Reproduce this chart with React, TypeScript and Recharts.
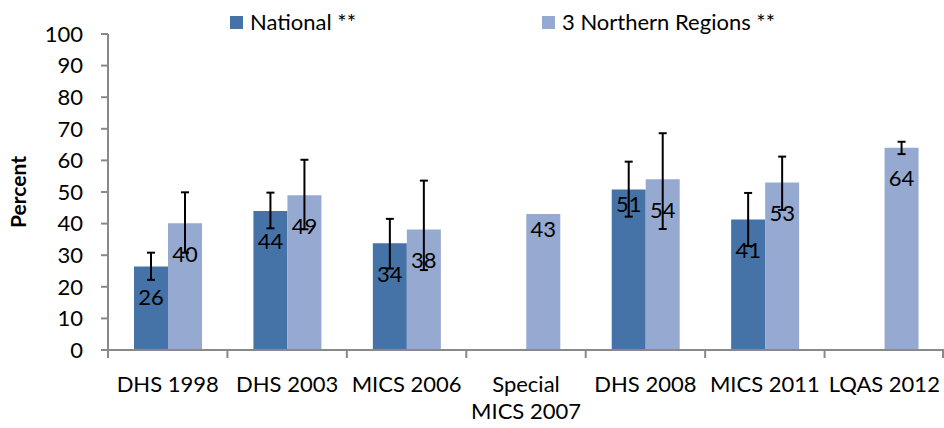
import { BarChart, Bar, XAxis, YAxis, ErrorBar } from "recharts";

const surveys = ["DHS 1998", "DHS 2003", "MICS 2006", "Special\nMICS 2007", "DHS 2008", "MICS 2011", "LQAS 2012"];
const national = [26.4, 44, 33.8, null, 50.8, 41.3, null];
const nationalLow = [22.2, 38.5, 25.8, null, 42.2, 32.9, null];
const nationalHigh = [30.8, 49.8, 41.5, null, 59.6, 49.7, null];
const northern = [40.1, 49, 38.1, 43, 54, 53, 64];
const northernLow = [30.8, 38.2, 25.3, null, 38.3, 44.3, 62];
const northernHigh = [49.9, 60.2, 53.6, null, 68.6, 61.2, 65.9];
const yTicks = [0, 10, 20, 30, 40, 50, 60, 70, 80, 90, 100];

const NATIONAL_COLOR = "#4572a7";
const NORTHERN_COLOR = "#95a9d1";
const AXIS_COLOR = "#898989";
const FONT = "Lato, 'Open Sans', sans-serif";

const W = 944;
const H = 428;
const Y_AXIS_W = 108;
const band = (W - Y_AXIS_W) / surveys.length;

const err = (v: number | null, lo: number | null, hi: number | null) =>
  v == null || lo == null || hi == null ? null : [v - lo, hi - v];

const data = surveys.map((s, i) => ({
  survey: s,
  national: national[i],
  northern: northern[i],
  nationalErr: err(national[i], nationalLow[i], nationalHigh[i]),
  northernErr: err(northern[i], northernLow[i], northernHigh[i]),
}));

function makeLabel(lows: (number | null)[]) {
  return (props: any) => {
    const { x, y, width, value, index } = props;
    if (value == null) return null;
    const dy = lows[index] == null ? 14 : 30;
    return (
      <text
        x={x + width / 2}
        y={y + dy}
        textAnchor="middle"
        dominantBaseline="central"
        fontSize={22}
        fontFamily={FONT}
        fill="#000"
      >
        {Math.round(value)}
      </text>
    );
  };
}

function XTick(props: any) {
  const { x, y, payload, index } = props;
  const lines = String(payload.value).split("\n");
  return (
    <g>
      <line x1={x - band / 2} y1={y - 8} x2={x - band / 2} y2={y} stroke={AXIS_COLOR} strokeWidth={2} />
      {index === surveys.length - 1 && (
        <line x1={x + band / 2 - 1} y1={y - 8} x2={x + band / 2 - 1} y2={y} stroke={AXIS_COLOR} strokeWidth={2} />
      )}
      {lines.map((l, i) => (
        <text
          key={i}
          x={x}
          y={y + 25 + i * 27}
          textAnchor="middle"
          dominantBaseline="central"
          fontSize={22}
          fontFamily={FONT}
          fill="#000"
        >
          {l}
        </text>
      ))}
    </g>
  );
}

function LegendBox() {
  const item = (left: number, color: string, text: string) => (
    <div style={{ position: "absolute", left, top: 9, display: "flex", alignItems: "center" }}>
      <div style={{ width: 13, height: 13, background: color, marginRight: 7 }} />
      <span style={{ fontSize: 22, lineHeight: "26px", fontFamily: FONT, color: "#000", whiteSpace: "nowrap" }}>
        {text}
      </span>
    </div>
  );
  return (
    <>
      {item(230, NATIONAL_COLOR, "National **")}
      {item(542, NORTHERN_COLOR, "3 Northern Regions **")}
    </>
  );
}

export default function App() {
  return (
    <div style={{ position: "relative", width: W, height: H, background: "#fff" }}>
      <style>{"body{margin:0}"}</style>
      <BarChart
        width={W}
        height={H}
        data={data}
        margin={{ top: 34, right: 0, left: 0, bottom: 0 }}
        barGap={0}
        barSize={34}
      >
        <YAxis
          width={Y_AXIS_W}
          domain={[0, 100]}
          ticks={yTicks}
          interval={0}
          tickSize={7}
          tickMargin={18}
          axisLine={{ stroke: AXIS_COLOR, strokeWidth: 2 }}
          tickLine={{ stroke: AXIS_COLOR, strokeWidth: 2 }}
          tick={{ fontSize: 22, fontFamily: FONT, fill: "#000" }}
          label={{
            value: "Percent",
            angle: -90,
            position: "insideLeft",
            offset: 19,
            style: { fontSize: 21, fontWeight: "bold", fontFamily: FONT, fill: "#000", textAnchor: "middle" },
          }}
        />
        <XAxis
          dataKey="survey"
          height={78}
          interval={0}
          tickLine={false}
          axisLine={{ stroke: AXIS_COLOR, strokeWidth: 2 }}
          tick={<XTick />}
        />
        <Bar
          dataKey="national"
          fill={NATIONAL_COLOR}
          isAnimationActive={false}
          label={makeLabel(nationalLow)}
        >
          <ErrorBar dataKey="nationalErr" width={4} stroke="#000" strokeWidth={2} />
        </Bar>
        <Bar
          dataKey="northern"
          fill={NORTHERN_COLOR}
          isAnimationActive={false}
          label={makeLabel(northernLow)}
        >
          <ErrorBar dataKey="northernErr" width={4} stroke="#000" strokeWidth={2} />
        </Bar>
      </BarChart>
      <div style={{ position: "absolute", left: 0, top: 0 }}>
        <LegendBox />
      </div>
    </div>
  );
}
